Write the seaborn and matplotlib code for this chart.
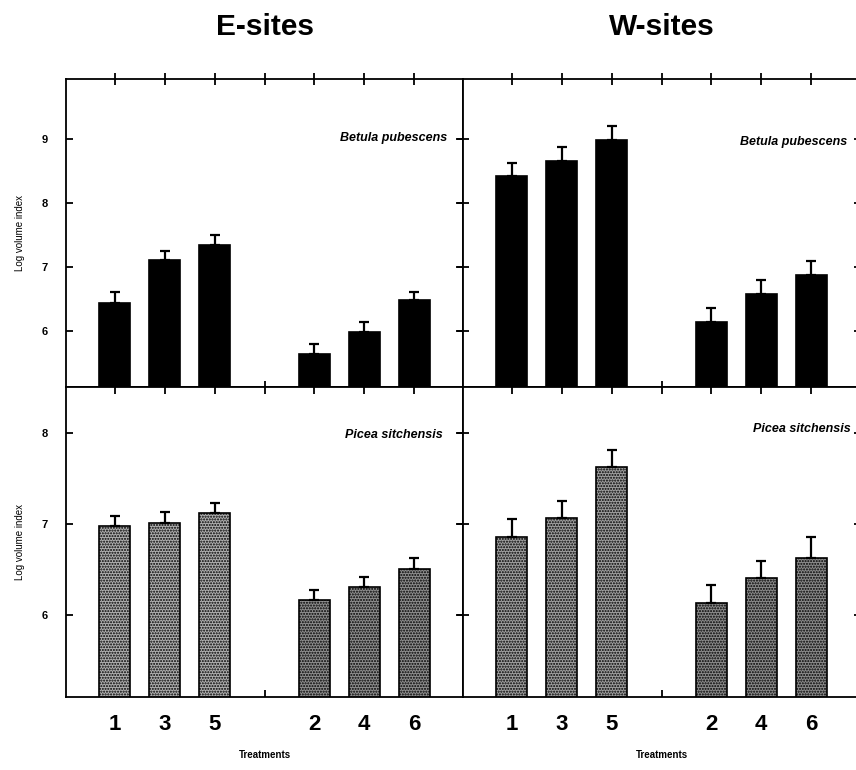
import numpy as np
import pandas as pd
import matplotlib
matplotlib.use("Agg")
import matplotlib.pyplot as plt
import seaborn as sns

# treatment order on the x axis (empty slot separates the two groups)
order = ["1", "3", "5", "", "2", "4", "6"]
treatments = ["1", "3", "5", "2", "4", "6"]
groups = ["odd", "odd", "odd", "even", "even", "even"]

# Betula pubescens, log volume index and upper SE
betula_e = [6.44, 7.11, 7.34, 5.64, 5.98, 6.48]
betula_e_se = [0.16, 0.14, 0.16, 0.15, 0.15, 0.13]
betula_w = [8.42, 8.66, 8.98, 6.14, 6.58, 6.88]
betula_w_se = [0.21, 0.21, 0.22, 0.21, 0.22, 0.21]

# Picea sitchensis
picea_e = [6.98, 7.01, 7.12, 6.16, 6.31, 6.50]
picea_e_se = [0.11, 0.12, 0.11, 0.11, 0.11, 0.12]
picea_w = [6.86, 7.06, 7.62, 6.13, 6.40, 6.63]
picea_w_se = [0.19, 0.19, 0.19, 0.20, 0.19, 0.22]

sites = ["E-sites", "W-sites"]
species = ["Betula pubescens", "Picea sitchensis"]

sns.set_style("ticks")
plt.rcParams["font.family"] = ["Liberation Sans", "DejaVu Sans"]
plt.rcParams["text.color"] = "black"
plt.rcParams["axes.labelcolor"] = "black"
plt.rcParams["xtick.color"] = "black"
plt.rcParams["ytick.color"] = "black"
plt.rcParams["hatch.color"] = "#4a4a4a"

fig = plt.figure(figsize=(8.56, 7.7), dpi=100)
lefts = [0.0771, 0.5409]
w = 0.4638
ax_tl = fig.add_axes([lefts[0], 0.4974, w, 0.4000])
ax_tr = fig.add_axes([lefts[1], 0.4974, w, 0.4000])
ax_bl = fig.add_axes([lefts[0], 0.0948, w, 0.4026])
ax_br = fig.add_axes([lefts[1], 0.0948, w, 0.4026])

# species label positions (axes fraction) per panel
label_xy = {(0, 0): (0.96, 0.81), (0, 1): (0.967, 0.795),
            (1, 0): (0.95, 0.845), (1, 1): (0.977, 0.864)}

panels = [
    (ax_tl, betula_e, betula_e_se, 0, 0),
    (ax_tr, betula_w, betula_w_se, 0, 1),
    (ax_bl, picea_e, picea_e_se, 1, 0),
    (ax_br, picea_w, picea_w_se, 1, 1),
]

for ax, vals, se, row, col in panels:
    df = pd.DataFrame({"treatment": treatments, "value": vals, "se": se, "group": groups})
    if row == 0:
        pal = {"odd": "black", "even": "black"}
    else:
        pal = {"odd": "#b0b0b0", "even": "#8f8f8f"} if col == 0 else {"odd": "#a0a0a0", "even": "#8c8c8c"}
    sns.barplot(data=df, x="treatment", y="value", hue="group", order=order,
                palette=pal, dodge=False, width=0.62, edgecolor="black",
                linewidth=1.2, errorbar=None, legend=False, ax=ax)
    if row == 1:
        for p in ax.patches:
            p.set_hatch("......")
    xpos = [order.index(t) for t in treatments]
    ax.errorbar(xpos, vals, yerr=[np.zeros(len(se)), se], fmt="none",
                ecolor="black", elinewidth=1.6, capsize=3.5, capthick=1.6)

    ax.set_xlim(-0.98, 6.98)
    if row == 0:
        ax.set_ylim(5.12, 9.94)
        ax.set_yticks([6, 7, 8, 9])
    else:
        ax.set_ylim(5.1, 8.5)
        ax.set_yticks([6, 7, 8])
    ax.set_xticks(range(7))
    for s in ax.spines.values():
        s.set_visible(True)
        s.set_linewidth(1.3)
        s.set_color("black")
    ax.tick_params(axis="both", which="both", direction="in", top=True, right=True,
                   bottom=True, left=True, length=5, width=1.3, color="black")
    if col == 1:
        ax.tick_params(axis="y", direction="inout", length=8)
        ax.set_yticklabels([])
        ax.set_ylabel("")
    else:
        ax.set_yticklabels([str(t) for t in ax.get_yticks().astype(int)],
                           fontsize=8, fontweight="bold")
        ax.tick_params(axis="y", pad=13)
        ax.set_ylabel("Log volume index", fontsize=7, labelpad=12)
    if row == 0:
        ax.set_xticklabels([])
        ax.set_xlabel("")
        ax.tick_params(axis="x", direction="inout", length=8)
        ax.set_title(sites[col], fontsize=21.5, fontweight="bold", pad=32)
    else:
        ax.set_xticklabels(order, fontsize=16, fontweight="bold")
        ax.tick_params(axis="x", pad=12)
        ax.set_xlabel("Treatments", fontsize=7, fontweight="bold", labelpad=11)
    tx, ty = label_xy[(row, col)]
    ax.text(tx, ty, species[row], transform=ax.transAxes, ha="right", va="center",
            fontsize=9, fontweight="bold", style="italic")

fig.savefig("out.png", dpi=100)
